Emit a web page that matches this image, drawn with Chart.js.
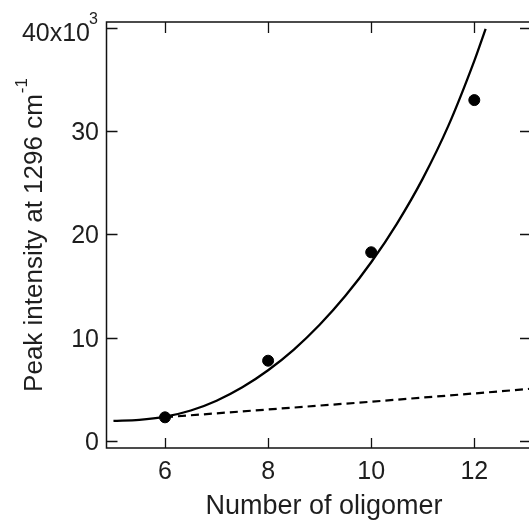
<!DOCTYPE html>
<html>
<head>
<meta charset="utf-8">
<script src="https://cdn.jsdelivr.net/npm/chart.js@4/dist/chart.umd.min.js"></script>
<style>
  html, body { margin: 0; padding: 0; background: #fff; overflow: hidden; }
  #wrap { width: 540px; height: 521px; position: relative; }
</style>
</head>
<body>
<div id="wrap"><canvas id="c"></canvas></div>
<script>
// measured points
const oligomer = [6, 8, 10, 12];
const intensity = [2.29, 7.77, 18.27, 33.0];

// solid fit curve
const fitX = [5, 5.5, 6, 6.5, 7, 7.5, 8, 8.5, 9, 9.5, 10, 10.5, 11, 11.5, 12, 12.22];
const fitY = [1.95, 2.05, 2.35, 2.95, 3.9, 5.2, 6.85, 8.85, 11.25, 14.05, 17.3, 21.05, 25.4, 30.55, 36.8, 39.9];

// dashed line
const dashX = [6, 8, 10, 12, 13.2];
const dashY = [2.3, 3.05, 3.8, 4.6, 5.1];

const xTicks = [6, 8, 10, 12];
const yTicks = [0, 10, 20, 30, 40];

const FONT = "'Liberation Sans', Arial, sans-serif";
const INK = '#1e1e1e';

const toXY = (xs, ys) => xs.map((x, i) => ({ x: x, y: ys[i] }));

// Frame, inward ticks and all the text
const decor = {
    id: 'decor',
    afterDraw(chart) {
        const ctx = chart.ctx;
        const a = chart.chartArea;
        const xs = chart.scales.x, ys = chart.scales.y;
        ctx.save();
        ctx.strokeStyle = '#111';
        ctx.lineWidth = 1.5;
        ctx.strokeRect(a.left, a.top, a.right - a.left, a.bottom - a.top);

        ctx.lineWidth = 1.3;
        ctx.beginPath();
        xTicks.forEach(v => {
            const p = Math.round(xs.getPixelForValue(v)) + 0.5;
            ctx.moveTo(p, a.bottom); ctx.lineTo(p, a.bottom - 10);
            ctx.moveTo(p, a.top); ctx.lineTo(p, a.top + 11);
        });
        yTicks.forEach(v => {
            const p = Math.round(ys.getPixelForValue(v)) + 0.5;
            ctx.moveTo(a.left, p); ctx.lineTo(a.left + 11, p);
            ctx.moveTo(a.right, p); ctx.lineTo(a.right - 11, p);
        });
        ctx.stroke();

        ctx.fillStyle = INK;
        ctx.textBaseline = 'alphabetic';
        ctx.font = '25px ' + FONT;

        // x tick labels
        ctx.textAlign = 'center';
        xTicks.forEach(v => ctx.fillText(String(v), xs.getPixelForValue(v), 479));

        // y tick labels
        yTicks.forEach(v => {
            const p = ys.getPixelForValue(v);
            ctx.font = '25px ' + FONT;
            ctx.textAlign = 'right';
            if (v === 40) {
                ctx.fillText('40x10', 90, p + 13);
                ctx.font = '16px ' + FONT;
                ctx.textAlign = 'left';
                ctx.fillText('3', 89, p - 4);
            } else {
                ctx.fillText(String(v), 99, p + 9);
            }
        });

        // x title
        ctx.font = '27px ' + FONT;
        ctx.textAlign = 'center';
        ctx.fillText('Number of oligomer', 324, 514);

        // y title, rotated, with superscript
        const main = 'Peak intensity at 1296 cm';
        const sup = '-1';
        ctx.font = '26px ' + FONT;
        const wMain = ctx.measureText(main).width;
        ctx.font = '17px ' + FONT;
        const wSup = ctx.measureText(sup).width;
        const total = wMain + wSup + 1;
        ctx.translate(42, (a.top + a.bottom) / 2);
        ctx.rotate(-Math.PI / 2);
        ctx.textAlign = 'left';
        ctx.font = '26px ' + FONT;
        ctx.fillText(main, -total / 2, 0);
        ctx.font = '17px ' + FONT;
        ctx.fillText(sup, -total / 2 + wMain + 1, -15);
        ctx.restore();
    }
};

new Chart(document.getElementById('c'), {
    type: 'scatter',
    data: {
        datasets: [
            {
                type: 'line',
                label: 'fit',
                data: toXY(fitX, fitY),
                borderColor: '#000',
                borderWidth: 2.3,
                pointRadius: 0,
                cubicInterpolationMode: 'monotone',
                fill: false
            },
            {
                type: 'line',
                label: 'baseline',
                data: toXY(dashX, dashY),
                borderColor: '#000',
                borderWidth: 2.2,
                borderDash: [8, 5],
                pointRadius: 0,
                fill: false
            },
            {
                label: 'data',
                data: toXY(oligomer, intensity),
                backgroundColor: '#000',
                borderColor: '#000',
                pointRadius: 5.5
            }
        ]
    },
    plugins: [decor],
    options: {
        responsive: true,
        maintainAspectRatio: false,
        animation: false,
        layout: { padding: { top: 22, right: 9, left: 0, bottom: 0 } },
        plugins: { legend: { display: false }, tooltip: { enabled: false } },
        scales: {
            x: {
                type: 'linear',
                min: 4.865,
                max: 13.1,
                afterBuildTicks: s => { s.ticks = xTicks.map(v => ({ value: v })); },
                afterFit: s => { s.height = 73; },
                grid: { display: false, drawTicks: false },
                border: { display: false },
                ticks: { display: false }
            },
            y: {
                min: -0.68,
                max: 40.56,
                afterBuildTicks: s => { s.ticks = yTicks.map(v => ({ value: v })); },
                afterFit: s => { s.width = 106.5; },
                grid: { display: false, drawTicks: false },
                border: { display: false },
                ticks: { display: false }
            }
        }
    }
});
</script>
</body>
</html>
